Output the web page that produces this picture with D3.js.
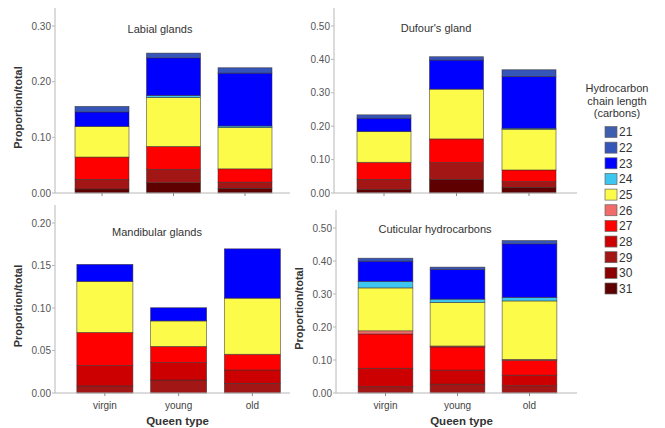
<!DOCTYPE html>
<html>
<head>
<meta charset="utf-8">
<script src="https://cdn.jsdelivr.net/npm/d3@7"></script>
<style>
  html, body { margin: 0; padding: 0; background: #fff; }
  svg { display: block; font-family: "Liberation Sans", Arial, sans-serif; }
</style>
</head>
<body>
<svg id="chart" width="665" height="428"></svg>
<script>
// Queen types on the x axis
const queenTypes = ["virgin", "young", "old"];

// Hydrocarbon chain lengths (stack order, bottom of legend = bottom of bar)
const chainLengths = ["21", "22", "23", "24", "25", "26", "27", "28", "29", "30", "31"];
const chainColours = ["#3f5fae", "#3555b9", "#0000ff", "#3cc6f0", "#fdfb4a", "#f26b6b",
                      "#ff0000", "#cc0000", "#a31616", "#8a0000", "#5e0000"];

// Proportion of total per chain length (rows C21..C31), columns: virgin, young, old
const labialValues = [
  [0, 0, 0],
  [0.010, 0.0085, 0.0096],
  [0.026, 0.0676, 0.095],
  [0, 0.0036, 0.003],
  [0.055, 0.088, 0.074],
  [0, 0, 0],
  [0.040, 0.041, 0.024],
  [0, 0, 0],
  [0.0174, 0.024, 0.011],
  [0, 0, 0],
  [0.0072, 0.0186, 0.0084]
];
const dufourValues = [
  [0, 0, 0],
  [0.010, 0.010, 0.020],
  [0.040, 0.087, 0.155],
  [0, 0, 0.003],
  [0.092, 0.149, 0.122],
  [0, 0, 0],
  [0.051, 0.071, 0.035],
  [0, 0, 0],
  [0.030, 0.050, 0.017],
  [0, 0, 0],
  [0.011, 0.041, 0.017]
];
const mandibularValues = [
  [0, 0, 0],
  [0, 0, 0],
  [0.020, 0.0155, 0.058],
  [0, 0, 0],
  [0.060, 0.030, 0.066],
  [0, 0, 0],
  [0.039, 0.019, 0.0185],
  [0.024, 0.0205, 0.0157],
  [0.0083, 0.0153, 0.0114],
  [0, 0, 0],
  [0, 0, 0]
];
const cuticularValues = [
  [0, 0, 0],
  [0.009, 0.007, 0.010],
  [0.061, 0.090, 0.162],
  [0.020, 0.010, 0.011],
  [0.130, 0.132, 0.177],
  [0.0095, 0.003, 0.003],
  [0.104, 0.070, 0.045],
  [0.056, 0.0425, 0.032],
  [0.019, 0.027, 0.022],
  [0, 0, 0],
  [0, 0, 0]
];

// Y axis tick labels per panel
const labialTicks = [0, 0.10, 0.20, 0.30];
const dufourTicks = [0, 0.10, 0.20, 0.30, 0.40, 0.50];
const mandibularTicks = [0, 0.05, 0.10, 0.15, 0.20];
const cuticularTicks = [0, 0.10, 0.20, 0.30, 0.40, 0.50];

// Panel layout
const panels = [
  { title: "Labial glands", values: labialValues, ticks: labialTicks,
    axisX: 55, axisEnd: 290, base: 193, top: 8, refVal: 0.30, refY: 26,
    xRange: [66.25, 280.75], pad: 0.245, titlePos: [160, 33], yTitle: true, xLabels: false },
  { title: "Dufour's gland", values: dufourValues, ticks: dufourTicks,
    axisX: 334, axisEnd: 577, base: 193, top: 8, refVal: 0.50, refY: 26,
    xRange: [347.75, 565.25], pad: 0.255, titlePos: [436, 32], yTitle: false, xLabels: false },
  { title: "Mandibular glands", values: mandibularValues, ticks: mandibularTicks,
    axisX: 55, axisEnd: 290, base: 393, top: 205, refVal: 0.20, refY: 223,
    xRange: [68, 289.25], pad: 0.24, titlePos: [157, 236], yTitle: true, xLabels: true },
  { title: "Cuticular hydrocarbons", values: cuticularValues, ticks: cuticularTicks,
    axisX: 336, axisEnd: 577, base: 393, top: 210, refVal: 0.50, refY: 228,
    xRange: [349.5, 565.5], pad: 0.24, titlePos: [435, 233], yTitle: true, xLabels: true }
];

const svg = d3.select("#chart");
const axisColour = "#b8b8b8";
const fmt = d3.format(".2f");

panels.forEach(p => {
  const g = svg.append("g");
  const y = d3.scaleLinear().domain([0, p.refVal]).range([p.base, p.refY]);
  const x = d3.scaleBand().domain(queenTypes).range(p.xRange)
    .paddingInner(p.pad).paddingOuter(p.pad / 2);

  // rows for stacking
  const rows = queenTypes.map((q, qi) => {
    const r = { queen: q };
    chainLengths.forEach((c, ci) => { r[c] = p.values[ci][qi]; });
    return r;
  });
  const order = chainLengths.slice().reverse(); // C31 at the bottom
  const stacked = d3.stack().keys(order)(rows);

  // bars
  stacked.forEach(layer => {
    const colour = chainColours[chainLengths.indexOf(layer.key)];
    g.selectAll(null).data(layer.filter(d => d[1] - d[0] > 0)).enter()
      .append("rect")
      .attr("x", d => x(d.data.queen))
      .attr("width", x.bandwidth())
      .attr("y", d => y(d[1]))
      .attr("height", d => y(d[0]) - y(d[1]))
      .attr("fill", colour)
      .attr("stroke", "#3a3030")
      .attr("stroke-opacity", 0.75)
      .attr("stroke-width", 0.7);
  });

  // y axis line
  g.append("line")
    .attr("x1", p.axisX).attr("x2", p.axisX)
    .attr("y1", p.top).attr("y2", p.base)
    .attr("stroke", axisColour).attr("stroke-width", 1);
  // x axis line
  g.append("line")
    .attr("x1", p.axisX).attr("x2", p.axisEnd)
    .attr("y1", p.base).attr("y2", p.base)
    .attr("stroke", axisColour).attr("stroke-width", 1);

  // y ticks and labels
  p.ticks.forEach(t => {
    g.append("line")
      .attr("x1", p.axisX - 3).attr("x2", p.axisX)
      .attr("y1", y(t)).attr("y2", y(t))
      .attr("stroke", axisColour);
    g.append("text")
      .attr("x", p.axisX - 4).attr("y", y(t))
      .attr("dy", "0.35em")
      .attr("text-anchor", "end")
      .attr("font-size", 10)
      .attr("fill", "#555")
      .text(fmt(t));
  });

  // x ticks
  queenTypes.forEach(q => {
    const cx = x(q) + x.bandwidth() / 2;
    g.append("line")
      .attr("x1", cx).attr("x2", cx)
      .attr("y1", p.base).attr("y2", p.base + 3)
      .attr("stroke", "#888");
    if (p.xLabels) {
      g.append("text")
        .attr("x", cx).attr("y", p.base + 16)
        .attr("text-anchor", "middle")
        .attr("font-size", 10)
        .attr("fill", "#444")
        .text(q);
    }
  });

  // x axis title
  if (p.xLabels) {
    g.append("text")
      .attr("x", (p.axisX + p.axisEnd) / 2 + 5).attr("y", p.base + 32)
      .attr("text-anchor", "middle")
      .attr("font-size", 11.5)
      .attr("font-weight", "bold")
      .attr("fill", "#333")
      .text("Queen type");
  }

  // y axis title
  if (p.yTitle) {
    const cy = (p.base + p.top) / 2 + 7;
    g.append("text")
      .attr("transform", `translate(${p.axisX - 33},${cy}) rotate(-90)`)
      .attr("text-anchor", "middle")
      .attr("font-size", 11)
      .attr("font-weight", "bold")
      .attr("fill", "#333")
      .text("Proportion/total");
  }

  // panel title
  g.append("text")
    .attr("x", p.titlePos[0]).attr("y", p.titlePos[1])
    .attr("text-anchor", "middle")
    .attr("font-size", 11)
    .attr("fill", "#333")
    .text(p.title);
});

// legend
const legend = svg.append("g");
["Hydrocarbon", "chain length", "(carbons)"].forEach((t, i) => {
  legend.append("text")
    .attr("x", 617).attr("y", 92 + i * 12.5)
    .attr("text-anchor", "middle")
    .attr("font-size", 11)
    .attr("fill", "#333")
    .text(t);
});
chainLengths.forEach((c, i) => {
  const cy = 132 + i * 15.65;
  legend.append("rect")
    .attr("x", 605).attr("y", cy - 5.5)
    .attr("width", 12).attr("height", 11)
    .attr("fill", chainColours[i])
    .attr("stroke", "#666").attr("stroke-width", 0.7);
  legend.append("text")
    .attr("x", 619).attr("y", cy)
    .attr("dy", "0.36em")
    .attr("font-size", 12)
    .attr("fill", "#333")
    .text(c);
});
</script>
</body>
</html>
